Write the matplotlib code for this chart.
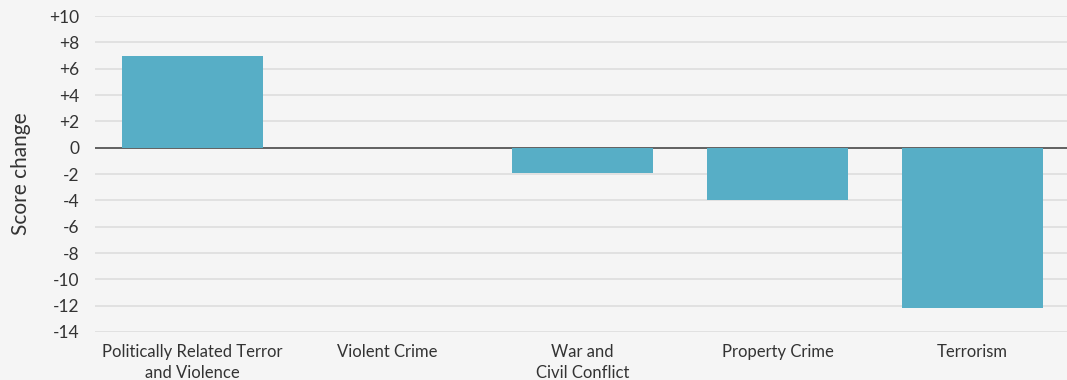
import matplotlib
matplotlib.use("Agg")
import matplotlib.pyplot as plt
import numpy as np

categories = ["Politically Related Terror\nand Violence", "Violent Crime", "War and\nCivil Conflict",
              "Property Crime", "Terrorism"]
values = [7.0, -0.05, -1.9, -4.0, -12.2]
yticks = list(range(-14, 11, 2))
ytick_labels = [("+%d" % v) if v > 0 else str(v) for v in yticks]

bg = "#f5f5f5"
bar_color = "#57aec6"
text_color = "#333333"

plt.rcParams['font.family'] = ['Lato', 'DejaVu Sans']

fig = plt.figure(figsize=(10.67, 3.8), dpi=100, facecolor=bg)
ax = fig.add_axes([95/1067, 1-332/380, (1070-95)/1067, (332-16)/380], facecolor=bg)

x = np.arange(len(categories))
ax.bar(x, values, width=0.723, color=bar_color, zorder=3)
ax.set_xlim(-0.5, len(categories) - 0.5)
ax.set_ylim(-14, 10)
ax.set_yticks(yticks)
ax.set_yticklabels(ytick_labels)
for v in yticks:
    if v == 0:
        ax.axhline(0, color="#555555", lw=1.3, zorder=2)
    else:
        ax.axhline(v, color="#dddddd", lw=1.2, zorder=1)
ax.set_xticks(x)
ax.set_xticklabels(categories, linespacing=1.4)
for s in ax.spines.values():
    s.set_visible(False)
ax.tick_params(axis='x', length=0, labelsize=12, colors=text_color, pad=8.5)
ax.tick_params(axis='y', length=0, labelsize=12.5, colors=text_color, pad=11.5)
ax.set_ylabel("Score change", fontsize=15, color=text_color)
ax.yaxis.set_label_coords(-0.066, 0.5)

fig.savefig("out.png", dpi=100, facecolor=bg)
